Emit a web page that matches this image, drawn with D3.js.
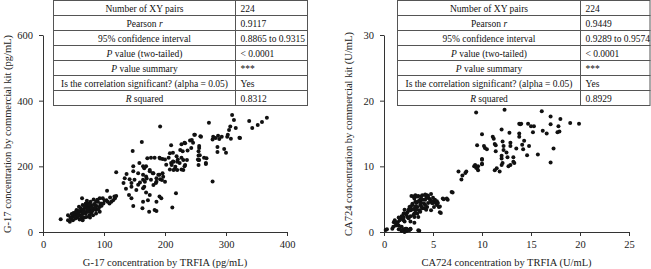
<!DOCTYPE html>
<html>
<head>
<meta charset="utf-8">
<script src="https://cdn.jsdelivr.net/npm/d3@7"></script>
<style>
  body { margin: 0; background: #fff; }
  svg { display: block; font-family: "Liberation Serif", "Times New Roman", serif; }
  .tick text { fill: #222; }
  .tbl text { font-size: 9.5px; fill: #111; }
</style>
</head>
<body>
<div id="chart"></div>
<script>
// G-17 (pg/mL): TRFIA vs commercial kit
const g17Pairs = [
  [29,39],[41,51],[44,31],[46,41],[49,36],[52,51],[55,58],[57,44],[60,51],[63,67],[65,56],[68,72],[63,41],[68,44],
  [71,62],[74,75],[76,51],[77,67],[79,58],[82,72],[85,82],[87,67],[90,92],[93,77],[95,87],[98,103],[104,97],[106,92],
  [109,87],[115,97],[117,108],[105,126],[64,103],[72,95],[78,92],[83,99],[55,67],[59,77],[65,82],[70,87],[74,87],
  [79,82],[87,92],[93,103],[101,95],[112,92],[48,48],[53,41],[60,38],[65,36],[71,46],[77,44],[82,51],[87,56],[93,62],
  [50,58],[56,51],[61,62],[66,67],[72,79],[77,77],[83,69],[88,79],[94,85],[99,87],[70,56],[75,62],[81,64],[86,75],
  [64,48],[58,58],[52,46],[45,44],[41,36],[62,72],[67,60],[73,70],[80,75],[84,85],[91,70],[96,80],[58,64],[54,62],
  [47,55],[69,78],[76,84],[89,98],[118,103],[120,110],[110,105],
  [120,182],[137,177],[134,164],[132,149],[142,161],[145,149],[150,159],[148,185],[156,179],[159,151],[164,159],
  [169,169],[175,185],[180,179],[177,159],[186,164],[191,174],[196,179],[185,149],[192,161],[183,226],[191,226],
  [196,222],[177,226],[158,210],[169,200],[148,200],[136,132],[145,138],[153,128],[156,144],[166,138],[169,120],
  [175,113],[191,108],[194,103],[186,92],[164,92],[172,97],[141,113],[145,103],[148,79],[163,72],[174,62],[183,67],
  [186,64],[164,200],[192,321],[162,274],[147,247],[171,225],[166,194],[175,189],[181,179],[189,174],[197,168],
  [195,158],[186,153],[170,163],[164,174],[167,153],[200,153],[181,143],[164,133],[192,224],[200,221],
  [232,272],[241,279],[248,296],[258,292],[278,282],[293,290],[302,290],[308,284],[322,287],[300,241],[286,259],
  [256,256],[255,246],[243,256],[237,248],[227,267],[229,246],[213,241],[210,264],[219,231],[206,226],[213,215],
  [221,221],[227,226],[224,210],[210,210],[202,205],[208,190],[216,192],[227,190],[232,200],[218,118],[212,75],
  [255,233],[254,221],[267,210],[264,226],[278,154],[310,356],[272,333],[338,338],[367,348],[359,335],[352,326],
  [343,317],[316,317],[313,341],[307,321],[305,311],[303,296],[323,286],[279,290],[287,293],[289,283],[283,286],
  [297,253],[286,244],[257,234],[256,219],[268,225],[267,207],[249,296],[259,290],[244,280],[256,262],[225,250],
  [233,270],[246,272],[208,240],[214,214],[220,214],[230,219],[211,204],[217,199],[214,189],[220,189],[230,189],
  [233,204],[236,219],[255,219],[255,204]
];

// CA724 (U/mL): TRFIA vs commercial kit
const ca724Pairs = [
  [0.17,0.3],[0.85,0.5],[1.2,1.0],[1.4,1.5],[1.7,2.0],[1.9,2.4],[2.0,2.8],[2.4,3.0],[2.7,3.3],[2.6,3.8],[2.9,4.3],
  [3.1,5.1],[3.2,5.6],[3.4,5.4],[3.6,4.6],[3.7,4.1],[3.9,3.6],[4.1,4.3],[4.3,5.4],[4.4,5.6],[4.6,5.1],[4.8,4.6],
  [4.9,4.4],[5.1,4.7],[5.3,4.4],[5.4,4.1],[5.6,3.8],[5.8,2.9],[6.0,5.1],[6.5,4.9],[7.0,6.0],[1.5,0.4],[1.9,0.3],
  [2.2,0.5],[2.6,0.3],[2.7,0.5],[3.6,0.2],[1.0,1.5],[2.0,1.8],[2.4,2.3],[2.7,2.4],[3.1,2.8],[3.2,3.3],[3.4,3.8],
  [3.6,3.3],[3.7,4.8],[4.1,3.6],[4.4,3.8],[4.8,3.3],[5.1,3.8],[3.2,4.6],[3.9,5.6],[4.8,5.8],[4.3,3.4],[3.1,2.3],
  [3.4,2.8],[0.3,0.4],[0.95,0.8],[1.1,1.8],[1.3,1.4],[1.5,2.2],[1.6,1.8],[1.8,2.4],[2.0,2.2],[2.1,2.8],[2.3,2.6],
  [2.1,3.4],[2.5,3.4],[2.7,3.9],[2.9,4.1],[2.8,3.4],[3.0,3.5],[3.2,3.9],[3.3,4.4],[3.5,4.7],[3.7,5.0],[3.8,5.4],
  [4.0,4.9],[4.2,5.7],[4.4,5.2],[4.5,5.5],[4.7,4.9],[4.9,4.7],[5.0,4.4],[5.2,4.9],[5.4,4.7],[5.5,4.4],[5.7,3.9],
  [5.7,3.0],[6.1,5.0],[6.9,6.1],[5.0,5.2],[3.0,5.4],[2.8,5.5],[3.5,5.5],[4.2,4.9],[3.2,2.8],[3.3,3.4],[3.7,3.1],
  [3.8,3.9],[3.8,4.4],[4.2,4.1],[4.5,4.4],[2.5,2.1],[2.7,1.6],[3.1,1.4],[3.0,2.6],[3.5,2.3],[2.1,1.6],[1.5,1.0],
  [1.8,0.8],[1.6,0.4],[2.0,0.4],[2.3,0.5],[2.5,0.3],[2.7,0.4],[2.1,0.0],[3.5,0.26],[1.8,0.15],[2.3,0.15],
  [7.6,9.2],[8.0,8.6],[8.4,9.2],[7.9,8.0],[9.2,10.0],[9.6,9.4],[10.0,10.3],[10.0,11.0],[9.4,9.8],[6.4,5.1],[8.3,9.0],
  [9.4,18.2],[12.3,18.6],[16.1,18.4],[17.0,17.6],[18.0,17.2],[19.0,16.6],[19.9,16.5],[17.0,16.4],[17.8,16.1],
  [17.7,15.2],[17.9,15.3],[16.2,15.4],[16.6,15.0],[13.9,16.4],[13.8,16.5],[14.0,16.5],[14.7,16.5],[15.0,16.1],
  [15.3,16.1],[15.2,15.2],[13.8,15.0],[13.8,14.5],[12.8,15.1],[12.0,15.6],[10.0,14.9],[11.1,14.5],[11.2,14.2],
  [9.5,13.2],[10.2,13.1],[10.5,12.6],[11.4,13.2],[12.1,13.8],[12.2,13.1],[12.9,13.6],[12.9,13.1],[13.5,12.7],
  [14.1,13.3],[14.3,13.9],[14.2,12.6],[14.8,13.1],[11.4,12.3],[12.2,12.5],[12.0,11.6],[12.0,11.2],[12.6,11.4],
  [13.2,11.4],[12.5,12.1],[13.2,10.7],[12.9,10.2],[13.3,10.5],[12.7,10.0],[12.1,10.5],[12.0,10.2],[11.8,9.2],
  [11.3,9.4],[11.5,9.7],[10.0,11.1],[10.0,10.4],[9.3,10.2],[9.6,10.0],[9.5,9.7],[14.6,11.7],[15.7,11.8],[17.3,12.7],
  [17.0,10.6],[10.3,12.8],[11.3,13.4]
];

// tick values
const g17XTicks = [0, 100, 200, 300, 400];
const g17YTicks = [0, 200, 400, 600];
const ca724XTicks = [0, 5, 10, 15, 20, 25];
const ca724YTicks = [0, 10, 20, 30];

// correlation tables
const statLabels = ["Number of XY pairs", "Pearson |r|", "95% confidence interval", "|P| value (two-tailed)",
  "|P| value summary", "Is the correlation significant? (alpha = 0.05)", "|R| squared"];
const g17Stats = ["224", "0.9117", "0.8865 to 0.9315", "< 0.0001", "***", "Yes", "0.8312"];
const ca724Stats = ["224", "0.9449", "0.9289 to 0.9574", "< 0.0001", "***", "Yes", "0.8929"];

const svg = d3.select("#chart").append("svg")
    .attr("width", 651)
    .attr("height", 269);

function drawPanel(cfg) {
    let x = d3.scaleLinear().domain([0, d3.max(cfg.xTicks)]).range([cfg.left, cfg.right]);
    let y = d3.scaleLinear().domain([0, d3.max(cfg.yTicks)]).range([cfg.bottom, cfg.top]);

    let g = svg.append("g");

    // axes
    let xAxis = g.append("g")
        .attr("transform", "translate(0," + cfg.bottom + ")")
        .call(d3.axisBottom(x).tickValues(cfg.xTicks).tickSize(4).tickSizeOuter(0).tickPadding(5));
    let yAxis = g.append("g")
        .attr("transform", "translate(" + cfg.left + ",0)")
        .call(d3.axisLeft(y).tickValues(cfg.yTicks).tickSize(4).tickSizeOuter(0).tickPadding(6));
    [xAxis, yAxis].forEach(a => {
        a.selectAll("path, line").attr("stroke", "#333");
        a.selectAll("text").style("font-size", "10.5px").style("font-family", "Liberation Serif, serif");
    });

    // points
    g.append("g").selectAll("circle")
        .data(cfg.data)
        .enter()
        .append("circle")
        .attr("cx", d => x(d[0]))
        .attr("cy", d => y(d[1]))
        .attr("r", 2)
        .attr("fill", "#111");

    // axis titles
    g.append("text")
        .attr("x", (cfg.left + cfg.right) / 2)
        .attr("y", 266)
        .attr("text-anchor", "middle")
        .style("font-size", "10.5px")
        .attr("fill", "#222")
        .text(cfg.xLabel);
    g.append("text")
        .attr("transform", "translate(" + cfg.yLabelX + ",134) rotate(-90)")
        .attr("text-anchor", "middle")
        .style("font-size", "10.5px")
        .attr("fill", "#222")
        .text(cfg.yLabel);

    // table
    let tbl = g.append("g").attr("class", "tbl");
    let rowH = 15;
    statLabels.forEach((lab, i) => {
        let ty = 0.5 + i * rowH;
        tbl.append("rect")
            .attr("x", cfg.tLeft).attr("y", ty)
            .attr("width", cfg.tSplit - cfg.tLeft).attr("height", rowH)
            .attr("fill", "#fff").attr("stroke", "#555").attr("stroke-width", 1);
        tbl.append("rect")
            .attr("x", cfg.tSplit).attr("y", ty)
            .attr("width", cfg.tRight - cfg.tSplit).attr("height", rowH)
            .attr("fill", "#fff").attr("stroke", "#555").attr("stroke-width", 1);

        // italic parts are marked with |..|
        let t = tbl.append("text")
            .attr("x", (cfg.tLeft + cfg.tSplit) / 2)
            .attr("y", ty + 11)
            .attr("text-anchor", "middle");
        lab.split("|").forEach((part, k) => {
            if (part === "") return;
            t.append("tspan").attr("font-style", k % 2 ? "italic" : "normal").text(part);
        });

        tbl.append("text")
            .attr("x", cfg.tSplit + 5)
            .attr("y", ty + 11)
            .attr("fill", cfg.stats[i] === "***" ? "#666" : "#111")
            .text(cfg.stats[i]);
    });
}

drawPanel({
    data: g17Pairs, xTicks: g17XTicks, yTicks: g17YTicks,
    left: 43, right: 287, top: 35, bottom: 232,
    xLabel: "G-17 concentration by TRFIA (pg/mL)",
    yLabel: "G-17 concentration by commercial kit (pg/mL)", yLabelX: 10.5,
    tLeft: 53.5, tSplit: 235.5, tRight: 307.5, stats: g17Stats
});

drawPanel({
    data: ca724Pairs, xTicks: ca724XTicks, yTicks: ca724YTicks,
    left: 384, right: 629, top: 35, bottom: 232,
    xLabel: "CA724 concentration by TRFIA (U/mL)",
    yLabel: "CA724 concentration by commercial kit (U/mL)", yLabelX: 352,
    tLeft: 397.5, tSplit: 580.5, tRight: 650, stats: ca724Stats
});
</script>
</body>
</html>
